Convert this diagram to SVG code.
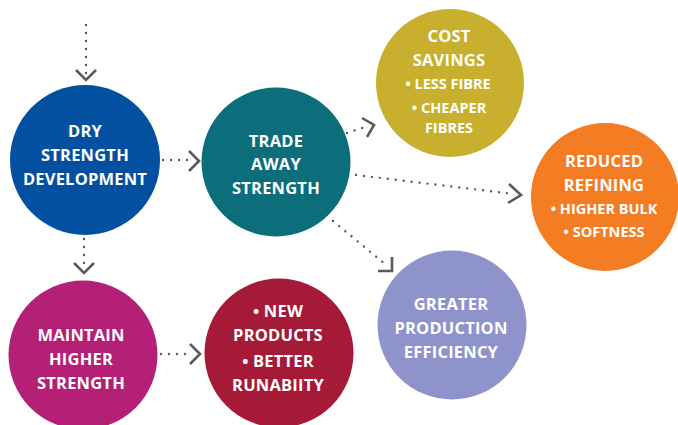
<svg xmlns="http://www.w3.org/2000/svg" width="678" height="425" viewBox="0 0 678 425">
<style>
.t{font-family:"Open Sans","Noto Sans","Liberation Sans",sans-serif;font-weight:700;fill:#fff;text-anchor:middle;font-size:16.5px;letter-spacing:0.2px}
.s{font-size:14.5px;letter-spacing:0}
.d{fill:none;stroke:#5a5a5a;stroke-width:2.4;stroke-linecap:round;stroke-dasharray:0 8}
.h{fill:none;stroke:#5a5a5a;stroke-width:2.6;stroke-linecap:butt;stroke-linejoin:miter}
</style>
<rect width="678" height="425" fill="#fff"/>
<g id="connectors">
<path class="d" d="M86 25 V76"/>
<path class="h" d="M76 70 L86 80 L96 70"/>
<path class="d" d="M163 160 H192"/>
<path class="h" d="M189 151 L199 161 L189 171"/>
<path class="d" d="M347 133 L368 126"/>
<path class="h" d="M362 118 L374 125 L367 137"/>
<path class="d" d="M356 175 L514 194"/>
<path class="h" d="M509 184 L521 195 L508 203"/>
<path class="d" d="M333 221 L385 264"/>
<path class="h" d="M392 257 L392 271 L378 271"/>
<path class="d" d="M84 239 V265"/>
<path class="h" d="M74 263 L84 273 L94 263"/>
<path class="d" d="M161 354 H193"/>
<path class="h" d="M190 344 L200 354 L190 364"/>
</g>
<g id="dry">
<circle cx="85" cy="160" r="75" fill="#0450A0"/>
<text class="t" x="85" y="137">DRY</text>
<text class="t" x="85" y="161">STRENGTH</text>
<text class="t" x="85" y="185">DEVELOPMENT</text>
</g>
<g id="trade">
<circle cx="276" cy="162" r="74.5" fill="#0B6E7A"/>
<text class="t" x="276" y="147">TRADE</text>
<text class="t" x="276" y="170">AWAY</text>
<text class="t" x="276" y="194">STRENGTH</text>
</g>
<g id="cost">
<circle cx="450" cy="83" r="74" fill="#C8AF2E"/>
<text class="t" x="449" y="42">COST</text>
<text class="t" x="449" y="66">SAVINGS</text>
<text class="t s" x="448" y="89">• LESS FIBRE</text>
<text class="t s" x="449" y="113">• CHEAPER</text>
<text class="t s" x="449" y="133">FIBRES</text>
</g>
<g id="refining">
<circle cx="605" cy="197" r="74" fill="#F47C22"/>
<text class="t" x="604" y="167">REDUCED</text>
<text class="t" x="604" y="191">REFINING</text>
<text class="t s" x="604" y="214">• HIGHER BULK</text>
<text class="t s" x="604" y="237">• SOFTNESS</text>
</g>
<g id="greater">
<circle cx="452" cy="325" r="74.5" fill="#8F93CC"/>
<text class="t" x="451" y="310">GREATER</text>
<text class="t" x="451" y="334">PRODUCTION</text>
<text class="t" x="451" y="358">EFFICIENCY</text>
</g>
<g id="maintain">
<circle cx="83" cy="355" r="74.5" fill="#B52077"/>
<text class="t" x="81" y="341">MAINTAIN</text>
<text class="t" x="81" y="365">HIGHER</text>
<text class="t" x="81" y="389">STRENGTH</text>
</g>
<g id="newproducts">
<circle cx="279" cy="353" r="74.5" fill="#A51A36"/>
<text class="t" x="278" y="317">• NEW</text>
<text class="t" x="278" y="341">PRODUCTS</text>
<text class="t" x="278" y="367">• BETTER</text>
<text class="t" x="278" y="391">RUNABIITY</text>
</g>
</svg>
